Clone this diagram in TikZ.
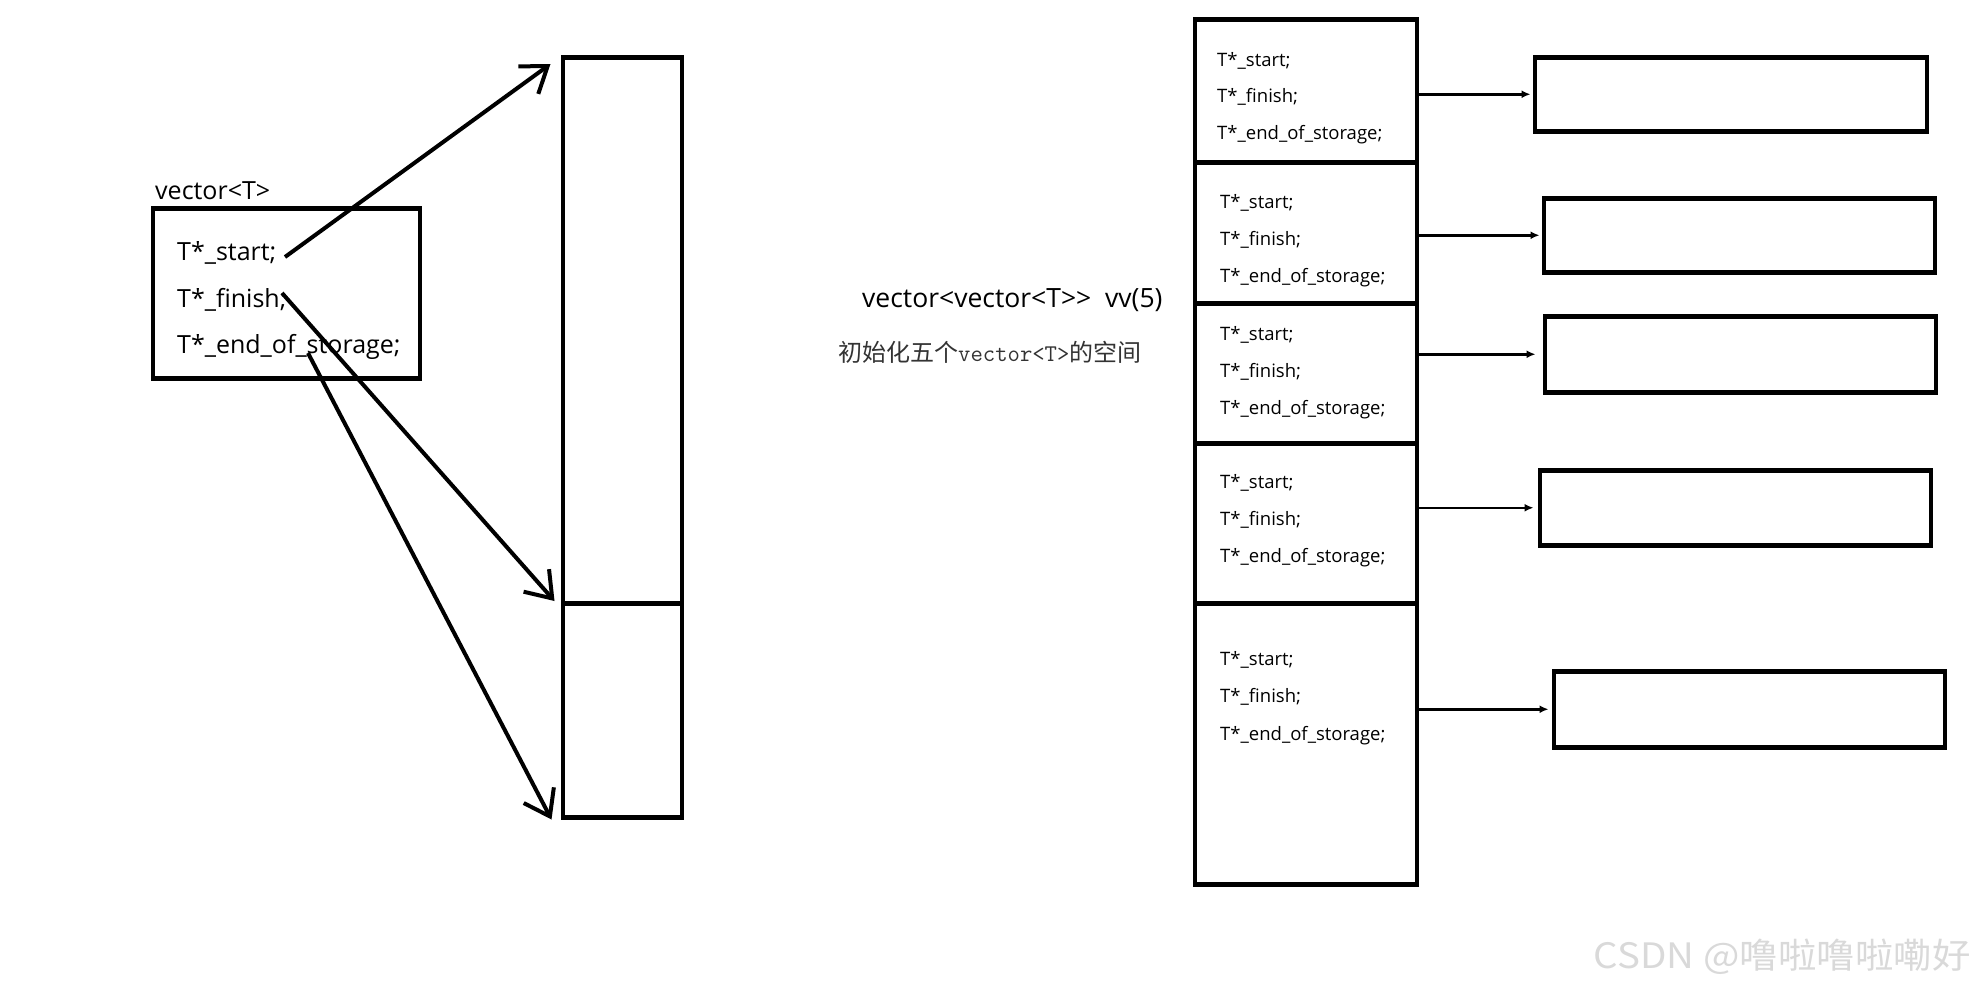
\documentclass[tikz,border=0pt]{standalone}
\usepackage{fontspec}
\setmainfont{Open Sans}
\newfontfamily\cjk{Noto Sans CJK SC}
\usetikzlibrary{positioning, arrows.meta}

\begin{document}
\begin{tikzpicture}[>=Stealth, x=1pt, y=-1pt,
    box/.style={draw, line width=4.5pt, inner sep=0, anchor=north west, xshift=-2.5pt, yshift=2pt},
    bigfield/.style={anchor=base west, inner sep=0, font=\fontsize{25}{25}\selectfont},
    field/.style={anchor=base west, inner sep=0, font=\fontsize{18.5}{18.5}\selectfont},
    hand/.style={line width=4pt, -{Straight Barb[length=24pt, width=34pt]}},
    link/.style={line width=2.5pt, -{Latex[length=9pt, width=8pt]}, shorten >=2pt}]
  \useasboundingbox (0,0) rectangle (1974,991);

  % single vector<T>
  \node[bigfield] (objname) at (155,199) {vector<T>};
  \node[box, minimum width=267pt, minimum height=170pt] (obj) at (153,208) {};
  \node[bigfield] (start) at (177,260) {T*\_start;};
  \node[bigfield] (finish) at (177,307) {T*\_finish;};
  \node[bigfield] (eos) at (177,353) {T*\_end\_of\_storage;};

  % its buffer
  \node[box, minimum width=119pt, minimum height=546pt] (buftop) at (563,57) {};
  \node[box, minimum width=119pt, minimum height=214pt] (bufbot) at (563,603) {};

  \coordinate (p1) at (285,257);
  \coordinate (p2) at (282,293);
  \coordinate (p3) at (308,353);
  \draw[hand] (p1) -- ([xshift=-10pt, yshift=-9pt]buftop.north west);
  \draw[hand] (p2) -- ([xshift=-6pt]bufbot.north west);
  \draw[hand] (p3) -- ([xshift=-9pt]bufbot.south west);

  % captions
  \node[anchor=base west, inner sep=0, font=\fontsize{26.5}{26.5}\selectfont]
    (title) at (862,307) {vector<vector<T>{}>\ \ vv(5)};
  \node[anchor=west, inner sep=0, text=black!80, font=\fontsize{24}{24}\selectfont]
    (note) at (838,352) {{\cjk 初始化五个}{\ttfamily vector<T>}{\cjk 的空间}};

  % vector<vector<T>> cells
  \foreach \i/\top/\h/\base/\gap/\xx in {1/19/143/66/36.5/1217, 2/162/141/208/37/1220,
      3/303/140/340/37/1220, 4/443/160/488/37/1220, 5/603/281/665/37.5/1220}{
    \node[box, minimum width=222pt, minimum height=\h pt] (c\i) at (1195,\top) {};
    \node[field] (s\i) at (\xx,\base) {T*\_start;};
    \node[field] (f\i) at (\xx,\base+\gap) {T*\_finish;};
    \node[field] (e\i) at (\xx,\base+2*\gap) {T*\_end\_of\_storage;};
  }

  % buffers of each vector<T>
  \foreach \i/\xx/\top/\w/\h in {1/1535/57/392/74, 2/1544/198/391/74, 3/1545/316/391/76,
      4/1540/470/391/75, 5/1554/671/391/76}{
    \node[box, minimum width=\w pt, minimum height=\h pt] (b\i) at (\xx,\top) {};
  }
  \foreach \i/\gap in {1/2, 2/2, 3/7, 4/4, 5/3}{
    \draw[link, shorten >=\gap pt] (c\i.east |- b\i.west) -- (b\i.west);
  }

  \node[anchor=east, inner sep=0, text=gray!30, font=\cjk\fontsize{35}{35}\selectfont]
    (mark) at (1971,957) {\scalebox{1.1}[1]{CSDN @噜啦噜啦嘞好}};
\end{tikzpicture}
\end{document}
